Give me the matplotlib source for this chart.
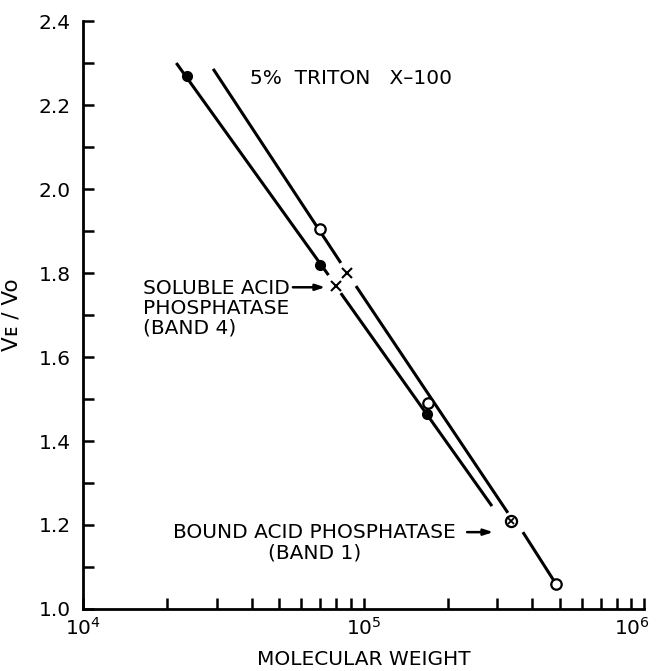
import matplotlib
matplotlib.use("Agg")
import matplotlib.pyplot as plt
import matplotlib.transforms as mtransforms
from matplotlib.ticker import LogLocator, MultipleLocator, FixedLocator, FixedFormatter

plt.rcParams['font.family'] = ['DejaVu Sans']
plt.rcParams['mathtext.fontset'] = 'dejavusans'

# ---- data ----
# filled circles (lower line)
filled_mw = [2.35e4, 7.0e4, 1.68e5]
filled_ve = [2.27, 1.82, 1.465]
# open circles (upper line)
open_mw = [7.0e4, 1.70e5, 4.85e5]
open_ve = [1.905, 1.49, 1.06]
# soluble acid phosphatase (band 4) crosses
cross_mw = [8.0e4, 8.7e4]
cross_ve = [1.77, 1.80]
# bound acid phosphatase (band 1)
bound_mw = [3.35e5]
bound_ve = [1.21]
# fitted line segments (lower line, gap at cross)
lower_seg1_mw = [2.15e4, 7.5e4]
lower_seg1_ve = [2.30, 1.795]
lower_seg2_mw = [8.3e4, 2.87e5]
lower_seg2_ve = [1.752, 1.245]
# upper line segments
upper_seg1_mw = [2.91e4, 8.3e4]
upper_seg1_ve = [2.286, 1.824]
upper_seg2_mw = [9.4e4, 3.27e5]
upper_seg2_ve = [1.769, 1.229]
upper_seg3_mw = [3.70e5, 4.85e5]
upper_seg3_ve = [1.183, 1.06]

y_ticks = [1.0, 1.2, 1.4, 1.6, 1.8, 2.0, 2.2, 2.4]
y_ticklabels = ['1.0', '1.2', '1.4', '1.6', '1.8', '2.0', '2.2', '2.4']
x_ticks = [1e4, 1e5, 1e6]
x_ticklabels = [r'$10^4$', r'$10^5$', r'$10^6$']

FS = 14.5

fig = plt.figure(figsize=(6.6, 6.71), dpi=100)
ax = fig.add_axes([0.1258, 0.0924, 0.85, 0.8763])
ax.set_xscale('log')
ax.set_xlim(1e4, 1e6)
ax.set_ylim(1.0, 2.4)

lw = 2.2
for mx, vy in [(lower_seg1_mw, lower_seg1_ve), (lower_seg2_mw, lower_seg2_ve),
               (upper_seg1_mw, upper_seg1_ve), (upper_seg2_mw, upper_seg2_ve),
               (upper_seg3_mw, upper_seg3_ve)]:
    ax.plot(mx, vy, color='black', lw=lw, solid_capstyle='butt', zorder=2)

ax.plot(filled_mw, filled_ve, 'o', color='black', ms=7, zorder=3)
ax.plot(open_mw, open_ve, 'o', mfc='white', mec='black', mew=1.6, ms=7.5, zorder=3)
ax.plot(cross_mw, cross_ve, 'x', color='black', ms=7, mew=1.5, zorder=3)
ax.plot(bound_mw, bound_ve, 'o', mfc='white', mec='black', mew=1.6, ms=8, zorder=3)
ax.plot(bound_mw, bound_ve, 'x', color='black', ms=5, mew=1.3, zorder=4)

for s in ['top', 'right']:
    ax.spines[s].set_visible(False)
for s in ['left', 'bottom']:
    ax.spines[s].set_linewidth(2.0)

ax.yaxis.set_major_locator(FixedLocator(y_ticks))
ax.yaxis.set_major_formatter(FixedFormatter(y_ticklabels))
ax.yaxis.set_minor_locator(MultipleLocator(0.1))
ax.xaxis.set_major_locator(FixedLocator(x_ticks))
ax.xaxis.set_major_formatter(FixedFormatter(x_ticklabels))
ax.xaxis.set_minor_locator(LogLocator(base=10, subs=[2, 3, 4, 5, 6, 7, 8, 9]))
ax.xaxis.set_minor_formatter(plt.NullFormatter())

ax.tick_params(which='both', direction='in', length=8, width=1.8, labelsize=FS)
ax.tick_params(axis='y', pad=9)
ax.tick_params(axis='x', pad=6)

# shift the last x tick label (10^6) slightly left so it stays inside the figure
fig.canvas.draw()
last_lbl = ax.get_xticklabels()[-1]
last_lbl.set_transform(last_lbl.get_transform() +
                       mtransforms.ScaledTranslation(-9 / 72, 0, fig.dpi_scale_trans))

ax.set_xlabel('MOLECULAR WEIGHT', fontsize=FS, labelpad=8)
ax.set_ylabel('V\u1d07 / Vo', fontsize=FS + 1, labelpad=12)

ax.text(3.94e4, 2.264, '5%  TRITON   X\u2013100', fontsize=FS, ha='left', va='center')

arrow = dict(arrowstyle='-|>,head_length=0.55,head_width=0.18', color='black', lw=1.8,
             shrinkA=0, shrinkB=0)

# soluble label
ax.text(1.64e4, 1.764, 'SOLUBLE ACID', fontsize=FS, ha='left', va='center')
ax.text(1.64e4, 1.716, 'PHOSPHATASE', fontsize=FS, ha='left', va='center')
ax.text(1.64e4, 1.668, '(BAND 4)', fontsize=FS, ha='left', va='center')
ax.annotate('', xy=(7.3e4, 1.766), xytext=(5.6e4, 1.766), arrowprops=arrow)

# bound label
ax.text(2.09e4, 1.181, 'BOUND ACID PHOSPHATASE', fontsize=FS, ha='left', va='center')
ax.text(4.57e4, 1.133, '(BAND 1)', fontsize=FS, ha='left', va='center')
ax.annotate('', xy=(2.9e5, 1.183), xytext=(2.34e5, 1.183), arrowprops=arrow)

fig.savefig('out.png', dpi=100)
